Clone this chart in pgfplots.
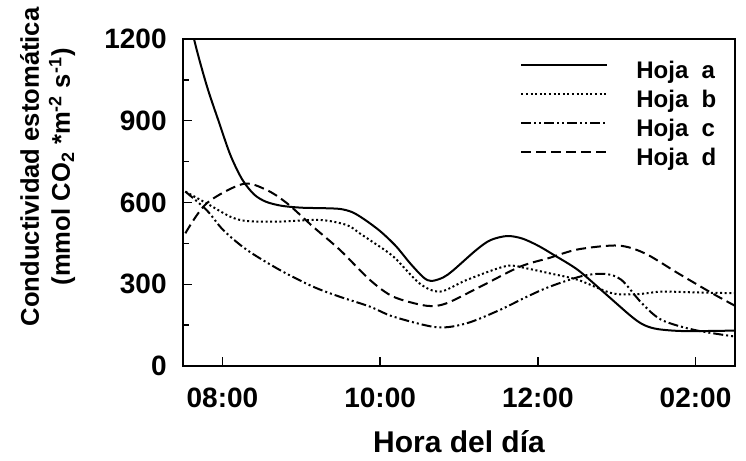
\documentclass[border=0pt]{standalone}
\usepackage{fontspec}
\setmainfont{Liberation Sans}
\usepackage{pgfplots}
\pgfplotsset{compat=1.18}

\begin{document}
\begin{tikzpicture}
\begin{axis}[
    scale only axis,
    width=276pt, height=163.5pt,
    xmin=7.5, xmax=14.5,
    ymin=0, ymax=1200,
    xtick={8,10,12,14},
    xticklabels={08:00,10:00,12:00,02:00},
    ytick={0,300,600,900,1200},
    minor ytick={150,450,750,1050},
    tick align=inside,
    xtick pos=bottom, ytick pos=left,
    major tick length=4.5pt, minor tick length=3pt,
    axis line style={line width=0.8pt},
    every tick/.style={line width=0.7pt, black},
    /pgf/number format/assume math mode=true,
    /pgf/number format/1000 sep={},
    ticklabel style={font=\fontsize{14}{16}\selectfont\bfseries},
    xticklabel style={anchor=base, yshift=-20.5pt},
    yticklabel style={anchor=east, inner sep=0pt, xshift=-8pt},
    xlabel={Hora del día},
    xlabel style={font=\fontsize{15}{17}\selectfont\bfseries, inner sep=0pt,
        at={(axis description cs:0.5,0)}, anchor=base, yshift=-43pt},
    ylabel={Conductividad estomática\\(mmol CO\textsubscript{2} *m\textsuperscript{-2} s\textsuperscript{-1})},
    ylabel style={font=\fontsize{12.8}{15.5}\selectfont\bfseries, align=center, inner sep=0pt,
        at={(axis description cs:-0.245,0.609)}, anchor=center},
    legend style={draw=none, fill=none, inner sep=0pt,
        at={(rel axis cs:0.6105,0.936)}, anchor=north west,
        font=\fontsize{12}{13}\selectfont\bfseries, row sep=3pt, column sep=14pt,
        nodes={inner sep=0pt, text height=9pt, text depth=2.5pt}},
    legend cell align=left,
    legend image code/.code={\draw[#1] (0pt,3.5pt) -- (43pt,3.5pt);},
    every axis plot/.append style={line width=1pt, black},
]
% Hoja a
\addplot[solid, smooth, tension=0.5] coordinates {
 (7.5,1400) (7.64,1200) (7.8,1030) (7.95,900) (8.1,775) (8.25,685) (8.4,630)
 (8.55,603) (8.75,588) (9.0,581) (9.3,579) (9.5,576) (9.65,564) (9.8,538)
 (10.0,495) (10.2,440) (10.38,377) (10.55,325) (10.65,312) (10.8,325) (10.93,352)
 (11.22,426) (11.4,462) (11.61,477) (11.8,468) (12.0,442) (12.2,408)
 (12.51,352) (12.85,267) (13.19,181) (13.35,150) (13.53,135) (13.87,128) (14.5,130)
};
\addlegendentry{Hoja\ \ a}
% Hoja b
\addplot[dash pattern=on 1pt off 1.3pt, smooth, tension=0.5] coordinates {
 (7.53,640) (7.8,597) (8.1,548) (8.31,532) (8.73,530) (9.24,536) (9.58,517)
 (9.74,487) (9.87,462) (10.17,401) (10.5,303) (10.76,273) (11.1,316) (11.6,367)
 (11.86,358) (12.15,340) (12.51,316) (12.94,267) (13.28,264) (13.57,273) (14.0,270) (14.5,267)
};
\addlegendentry{Hoja\ \ b}
% Hoja c
\addplot[dash pattern=on 5pt off 1.5pt on 1pt off 1.5pt on 1pt off 1.5pt, smooth, tension=0.5] coordinates {
 (7.53,640) (7.8,572) (8.01,499) (8.31,426) (8.73,352) (9.15,291) (9.49,254)
 (9.87,218) (10.17,181) (10.72,142) (11.1,157) (11.52,206) (11.86,254) (12.15,291)
 (12.56,330) (12.85,338) (13.06,316) (13.32,230) (13.57,169) (13.99,132) (14.5,108)
};
\addlegendentry{Hoja\ \ c}
% Hoja d
\addplot[dash pattern=on 5pt off 2.5pt, smooth, tension=0.5] coordinates {
 (7.53,487) (7.8,597) (8.26,668) (8.56,646) (8.82,597) (9.15,511) (9.49,426)
 (9.87,316) (10.17,254) (10.59,221) (10.84,230) (11.27,291) (11.77,364) (12.15,397)
 (12.51,428) (13.02,442) (13.36,413) (13.78,340) (14.21,267) (14.5,221)
};
\addlegendentry{Hoja\ \ d}
\end{axis}
\path (-91.5pt,-47.5pt) rectangle (281.5pt,183pt);
\end{tikzpicture}
\end{document}
